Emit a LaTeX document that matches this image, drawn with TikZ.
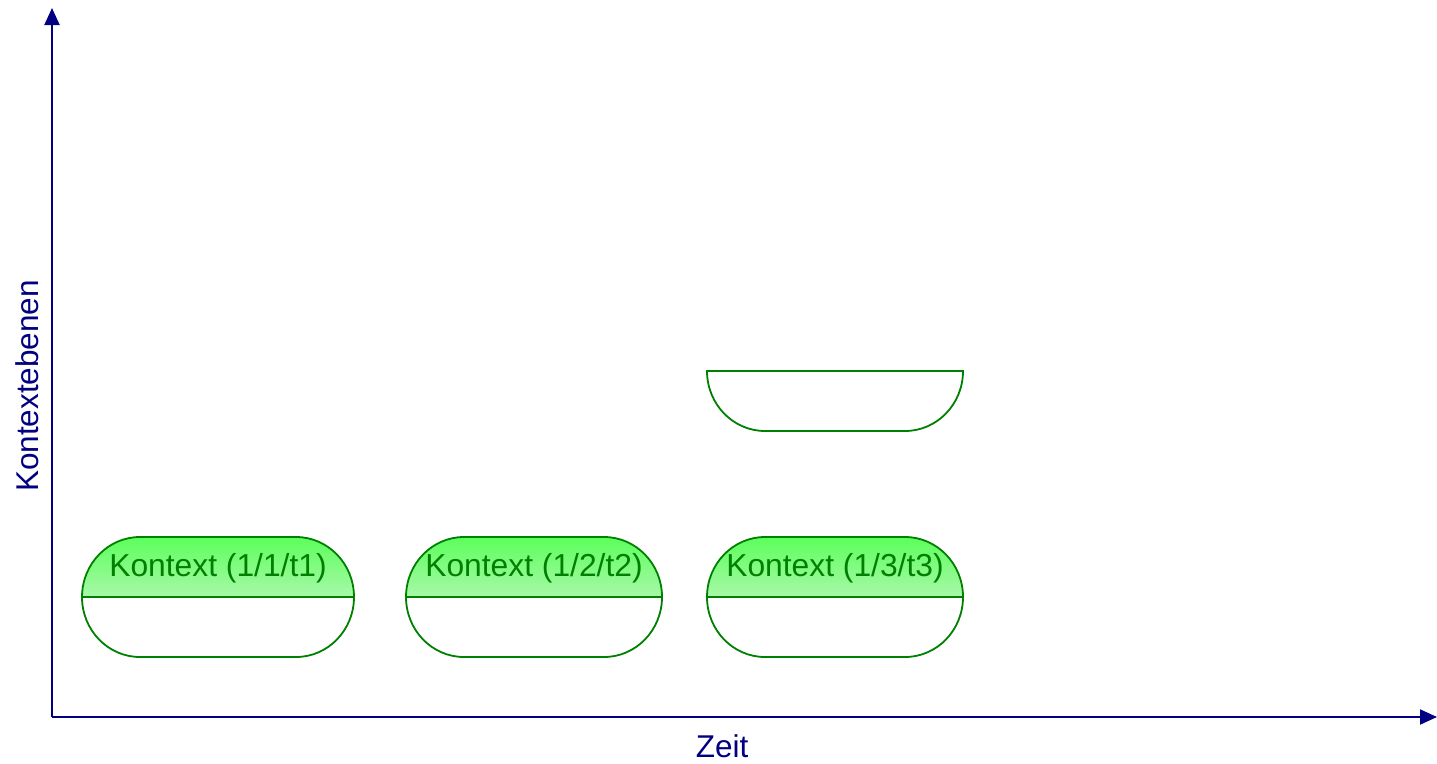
\documentclass[tikz,border=0pt]{standalone}
\usepackage{fontspec}
\setmainfont{Liberation Sans}
\usetikzlibrary{arrows.meta}
\definecolor{axiscol}{RGB}{0,0,128}
\definecolor{pillline}{RGB}{0,128,0}
\definecolor{pilltext}{RGB}{0,128,0}
\definecolor{gtop}{RGB}{92,255,92}
\definecolor{gbot}{RGB}{168,248,168}
\tikzset{
  axisline/.style={draw=axiscol, line width=2pt, -{Triangle[length=17pt,width=15pt]}},
  axislabel/.style={text=axiscol, font=\fontsize{31.5}{38}\selectfont, inner sep=0pt},
  pilltop/.style={top color=gtop, bottom color=gbot, draw=pillline, line width=1.8pt},
  pillbot/.style={fill=white, draw=pillline, line width=1.8pt},
  pilllabel/.style={text=pilltext, font=\fontsize{31.8}{38}\selectfont, inner sep=0pt},
}
\newcommand{\pillTop}[3]{% L R T (mid = T+60)
  \path[pilltop] (#1,#3+60) arc[start angle=180,end angle=270,x radius=58,y radius=60] -- (#2-58,#3) arc[start angle=270,end angle=360,x radius=58,y radius=60] -- cycle;}
\newcommand{\pillBot}[3]{% L R M
  \path[pillbot] (#2,#3) arc[start angle=0,end angle=90,x radius=58,y radius=60] -- (#1+58,#3+60) arc[start angle=90,end angle=180,x radius=58,y radius=60] -- cycle;}
\begin{document}
\begin{tikzpicture}[x=1pt,y=-1pt]
\useasboundingbox (0,0) rectangle (1437,763);
\coordinate (origin) at (52,717);
\coordinate (ytip) at (52,8);
\coordinate (xtip) at (1437,717);
\draw[axisline] (origin) -- (ytip);
\draw[axisline] (origin) -- (xtip);
\node[axislabel, rotate=90] (ylab) at (27,386) {Kontextebenen};
\node[axislabel] (xlab) at (722,746) {Zeit};
% pill 1
\pillTop{82}{354}{537}
\pillBot{82}{354}{597}
\node[pilllabel] (k1) at (218,568.5) {Kontext (1/1/t1)};
% pill 2
\pillTop{406}{662}{537}
\pillBot{406}{662}{597}
\node[pilllabel] (k2) at (534,568.5) {Kontext (1/2/t2)};
% pill 3
\pillTop{707}{963}{537}
\pillBot{707}{963}{597}
\node[pilllabel] (k3) at (835,568.5) {Kontext (1/3/t3)};
% upper lone bottom half
\pillBot{707}{963}{371}
\end{tikzpicture}
\end{document}
